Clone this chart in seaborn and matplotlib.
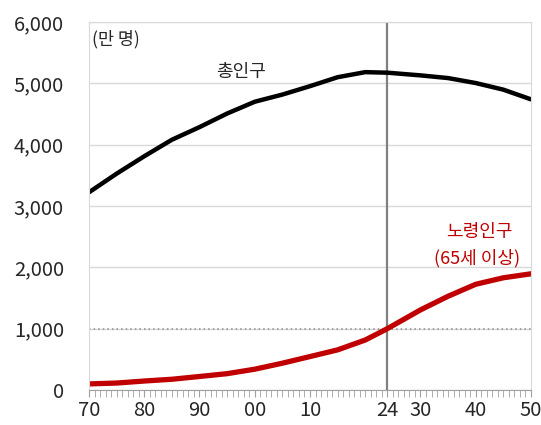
import numpy as np
import pandas as pd
import seaborn as sns
import matplotlib.pyplot as plt
from matplotlib.ticker import FuncFormatter, MultipleLocator

# 연도별 인구 (만 명)
years = [1970, 1975, 1980, 1985, 1990, 1995, 2000, 2005, 2010, 2015, 2020, 2024,
         2030, 2035, 2040, 2045, 2050]
total_pop = [3224, 3528, 3812, 4081, 4287, 4509, 4701, 4818, 4955, 5101, 5184, 5175,
             5131, 5087, 5006, 4898, 4740]
elderly_pop = [99, 113, 146, 175, 220, 266, 339, 437, 545, 654, 815, 1000,
               1306, 1529, 1724, 1830, 1895]

xtick_pos = [1970, 1980, 1990, 2000, 2010, 2024, 2030, 2040, 2050]
xtick_labels = ['70', '80', '90', '00', '10', '24', '30', '40', '50']

df = pd.DataFrame({'year': years, '총인구': total_pop, '노령인구': elderly_pop})

sns.set_style('white')
plt.rcParams['font.family'] = ['Noto Sans CJK KR', 'DejaVu Sans']

fig = plt.figure(figsize=(5.41, 4.25), dpi=100)
ax = fig.add_axes([0.1645, 0.0824, 0.817, 0.8656])

sns.lineplot(data=df, x='year', y='총인구', color='black', lw=3.2, ax=ax)
sns.lineplot(data=df, x='year', y='노령인구', color='#C00000', lw=3.8, ax=ax)

ax.axhline(1000, color='#8c8c8c', lw=1.1, ls=(0, (1, 2)), zorder=1)
ax.axvline(2024, color='#808080', lw=1.6, zorder=1)

ax.set_xlim(1970, 2050)
ax.set_ylim(0, 6000)
ax.yaxis.set_major_locator(MultipleLocator(1000))
ax.yaxis.set_major_formatter(FuncFormatter(lambda v, p: f'{int(v):,}'))
ax.grid(axis='y', color='#d9d9d9', lw=1)
ax.set_xticks(xtick_pos)
ax.set_xticklabels(xtick_labels)
ax.xaxis.set_minor_locator(MultipleLocator(1))
ax.tick_params(axis='x', which='both', direction='out', length=5, color='#a0a0a0',
               bottom=True, labelsize=14.5, pad=2)
ax.tick_params(axis='y', length=0, labelsize=14.5, pad=18)
for s in ax.spines.values():
    s.set_color('#d9d9d9')
ax.spines['bottom'].set_color('#a0a0a0')
ax.set_xlabel('')
ax.set_ylabel('')

ax.text(1970.5, 5720, '(만 명)', fontsize=12.5, ha='left', va='center')
ax.text(1997.5, 5190, '총인구', fontsize=13, ha='center', va='center')
ax.text(2040.6, 2580, '노령인구', fontsize=13, ha='center', va='center', color='#C00000')
ax.text(2040.2, 2150, '(65세 이상)', fontsize=13, ha='center', va='center', color='#C00000')

fig.savefig('out.png', dpi=100)
